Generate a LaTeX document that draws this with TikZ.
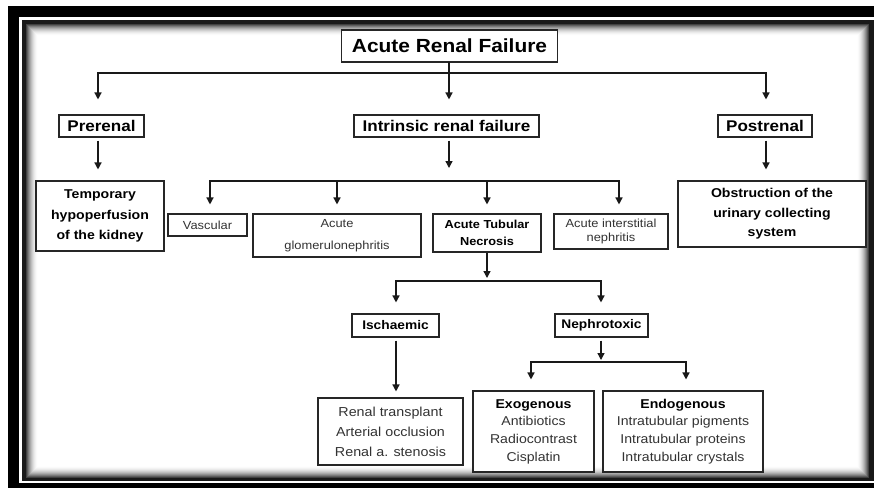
\documentclass[tikz,border=0pt]{standalone}
\usepackage{fontspec}
\setmainfont{Liberation Sans}[FakeStretch=1.1]
\usetikzlibrary{arrows.meta,calc}
\tikzset{
  box/.style={draw=black!85, line width=1.1pt, fill=white, inner sep=0pt, align=center, text=black},
  ln/.style={line width=1.4pt, black!90, line cap=rect},
  arr/.style={line width=1.4pt, black!90, -{Triangle[length=7pt,width=7pt]}},
  fbig/.style={font=\fontsize{19}{22}\selectfont\bfseries},
  ftop/.style={font=\fontsize{15.5}{18}\selectfont\bfseries},
  fmid/.style={font=\fontsize{12.8}{20.5}\selectfont\bfseries},
  fobs/.style={font=\fontsize{12.8}{19.5}\selectfont\bfseries},
  fatn/.style={font=\fontsize{11.6}{17}\selectfont\bfseries},
  fsub/.style={font=\fontsize{12.5}{15}\selectfont\bfseries},
  fsmall/.style={font=\fontsize{11.7}{22}\selectfont, text=black!80},
  fain/.style={font=\fontsize{11.7}{14.5}\selectfont, text=black!80},
  flist/.style={font=\fontsize{13}{20}\selectfont, text=black!80},
  flist2/.style={font=\fontsize{12.8}{17.7}\selectfont, text=black!80},
}
\begin{document}
\begin{tikzpicture}[x=1pt,y=-1pt]
\useasboundingbox (0,0) rectangle (874,488);
% frame
\fill[white] (0,0) rectangle (874,488);
\fill[black] (8,5.5) rectangle (874,488);
\fill[white] (19,17) rectangle (874,483);
\fill[black!90] (22,20) rectangle (874,481);
\fill[white] (26,24) rectangle (869,478);
\foreach \i in {0,...,11} {
  \pgfmathsetmacro\s{75*(1-\i/12)^2}
  \draw[black!\s, line width=1pt] (26.5+\i,24.5+\i) rectangle (868.5-\i,477.5-\i);
}
% nodes
\node[box, fbig, minimum width=216pt, minimum height=32pt] (title) at (449.5,46) {Acute Renal Failure};
\node[box, ftop, minimum width=85pt, minimum height=22pt] (pre) at (101.5,126) {Prerenal};
\node[box, ftop, minimum width=185pt, minimum height=22pt] (intr) at (446.5,126) {Intrinsic renal failure};
\node[box, ftop, minimum width=94pt, minimum height=22pt] (post) at (765,126) {Postrenal};
\node[box, fmid, minimum width=128pt, minimum height=70pt] (temp) at (100,216) {Temporary\\hypoperfusion\\of the kidney};
\node[box, fobs, minimum width=188pt, minimum height=66pt] (obst) at (772,214) {Obstruction of the\\urinary collecting\\system};
\node[box, fsmall, minimum width=79pt, minimum height=22pt] (vasc) at (207.5,225) {Vascular};
\node[box, fsmall, minimum width=168pt, minimum height=43pt] (glom) at (337,235.5) {Acute\\glomerulonephritis};
\node[box, fatn, minimum width=108pt, minimum height=38pt] (atn) at (487,233) {Acute Tubular\\Necrosis};
\node[box, fain, minimum width=114pt, minimum height=35pt] (ain) at (611,231.5) {Acute interstitial\\nephritis};
\node[box, fsub, minimum width=87pt, minimum height=23pt] (isch) at (395.5,325.5) {Ischaemic};
\node[box, fsub, minimum width=93pt, minimum height=23pt] (neph) at (601.5,325.5) {Nephrotoxic};
\node[box, flist, minimum width=145pt, minimum height=67pt] (rt) at (390.5,431.5) {Renal transplant\\Arterial occlusion\\Renal a. stenosis};
\node[box, flist2, minimum width=121pt, minimum height=81pt] (exo) at (533.5,431.5) {{\color{black}\bfseries Exogenous}\\Antibiotics\\Radiocontrast\\Cisplatin};
\node[box, flist2, minimum width=160pt, minimum height=81pt] (endo) at (683,431.5) {{\color{black}\bfseries Endogenous}\\Intratubular pigments\\Intratubular proteins\\Intratubular crystals};
% level 0
\coordinate (j0) at (449,73);
\coordinate (j0L) at (98,73);
\coordinate (j0R) at (766,73);
\draw[ln] (title.south -| j0) -- (j0);
\draw[ln] (j0L) -- (j0R);
\draw[arr, shorten >=15pt] (j0L) -- (pre.north -| j0L);
\draw[arr, shorten >=15pt] (j0) -- (intr.north -| j0);
\draw[arr, shorten >=15pt] (j0R) -- (post.north -| j0R);
% level 1
\draw[arr, shorten <=3pt, shorten >=11pt] (pre.south -| j0L) -- (temp.north -| j0L);
\draw[arr, shorten <=3pt, shorten >=11pt] (post.south -| j0R) -- (obst.north -| j0R);
\coordinate (j1a) at (210,181);
\coordinate (j1b) at (337,181);
\coordinate (j1c) at (487,181);
\coordinate (j1d) at (619,181);
\draw[arr, shorten <=3pt, shorten >=13pt] (intr.south -| j0) -- (j0 |- j1a);
\draw[ln] (j1a) -- (j1d);
\draw[arr, shorten >=9pt] (j1a) -- (vasc.north -| j1a);
\draw[arr, shorten >=9pt] (j1b) -- (glom.north -| j1b);
\draw[arr, shorten >=9pt] (j1c) -- (atn.north -| j1c);
\draw[arr, shorten >=9pt] (j1d) -- (ain.north -| j1d);
% ATN branch
\coordinate (j2) at (487,281);
\coordinate (j2L) at (396,281);
\coordinate (j2R) at (601,281);
\draw[arr, shorten >=3pt] (atn.south -| j2) -- (j2);
\draw[ln] (j2L) -- (j2R);
\draw[arr, shorten >=11pt] (j2L) -- (isch.north -| j2L);
\draw[arr, shorten >=11pt] (j2R) -- (neph.north -| j2R);
\draw[arr, shorten <=3pt, shorten >=6pt] (isch.south -| j2L) -- (rt.north -| j2L);
% Nephrotoxic branch
\coordinate (j3) at (601,362);
\coordinate (j3L) at (531,362);
\coordinate (j3R) at (686,362);
\draw[arr, shorten <=3pt, shorten >=2pt] (neph.south -| j3) -- (j3);
\draw[ln] (j3L) -- (j3R);
\draw[arr, shorten >=11pt] (j3L) -- (exo.north -| j3L);
\draw[arr, shorten >=11pt] (j3R) -- (endo.north -| j3R);
\end{tikzpicture}
\end{document}
